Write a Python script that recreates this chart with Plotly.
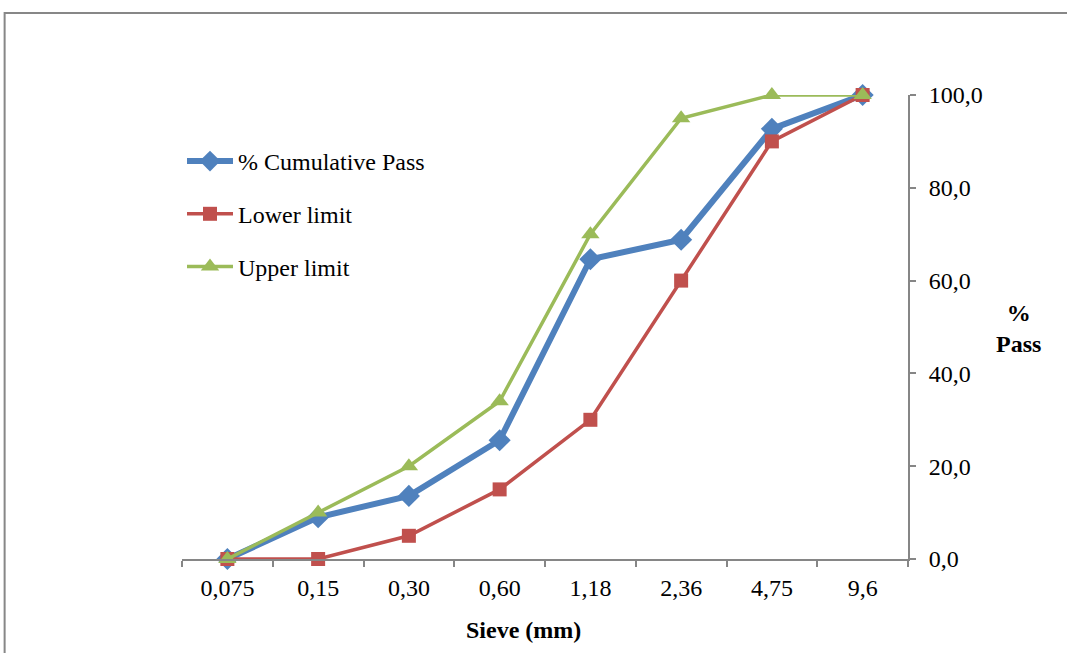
import plotly.graph_objects as go

sieve = ["0,075", "0,15", "0,30", "0,60", "1,18", "2,36", "4,75", "9,6"]
cumulative_pass = [0.0, 9.0, 13.6, 25.6, 64.6, 68.8, 92.7, 100.0]
lower_limit = [0, 0, 5, 15, 30, 60, 90, 100]
upper_limit = [0, 10, 20, 34, 70, 95, 100, 100]
y_ticks = [0, 20, 40, 60, 80, 100]

W, H = 1067, 653
L, R, T, B = 181.5, 159, 95, 94
pw = W - L - R
ph = H - T - B
FONT = "Liberation Serif, Times New Roman, serif"
FS = 24

fig = go.Figure()
fig.add_trace(go.Scatter(
    x=sieve, y=cumulative_pass, name="% Cumulative Pass", mode="lines+markers",
    line=dict(color="#4F81BD", width=6),
    marker=dict(symbol="diamond", size=17, color="#4F81BD"),
    legendgroup="a", cliponaxis=False))
fig.add_trace(go.Scatter(
    x=sieve, y=lower_limit, name="Lower limit", mode="lines+markers",
    line=dict(color="#C0504D", width=3.5),
    marker=dict(symbol="square", size=14, color="#C0504D"),
    legendgroup="b", cliponaxis=False))
fig.add_trace(go.Scatter(
    x=sieve, y=upper_limit, name="Upper limit", mode="lines+markers",
    line=dict(color="#9BBB59", width=3.5),
    marker=dict(symbol="triangle-up", size=16, color="#9BBB59"),
    legendgroup="c", cliponaxis=False))

def px_x(p):
    return (p - L) / pw

def px_y(p):
    return 1 - (p - T) / ph

fig.update_layout(
    width=W, height=H,
    margin=dict(l=L, r=R, t=T, b=B, pad=0, autoexpand=False),
    paper_bgcolor="white", plot_bgcolor="white",
    separators=", ",
    font=dict(family=FONT, size=FS, color="black"),
    showlegend=True,
    legend=dict(
        xref="paper", yref="paper",
        x=0.0, y=px_y(139), xanchor="left", yanchor="top",
        bgcolor="rgba(0,0,0,0)", tracegroupgap=18.5,
        font=dict(family=FONT, size=FS, color="black"),
        itemwidth=46,
    ),
    xaxis=dict(
        type="category", range=[-0.5, 7.5], tickson="boundaries",
        showline=True, linecolor="#868686", linewidth=2,
        ticks="outside", ticklen=6, tickwidth=2, tickcolor="#868686",
        showgrid=False, zeroline=False, ticklabelstandoff=6, tickangle=0,
        automargin=False,
        tickfont=dict(family=FONT, size=FS, color="black"),
    ),
    yaxis=dict(
        side="right", range=[0, 100], tickvals=y_ticks, tickformat=".1f",
        showline=True, linecolor="#868686", linewidth=2,
        ticks="outside", ticklen=6, tickwidth=2, tickcolor="#868686",
        showgrid=False, zeroline=False, ticklabelstandoff=8,
        automargin=False,
        tickfont=dict(family=FONT, size=FS, color="black"),
    ),
    shapes=[dict(
        type="rect", xref="paper", yref="paper",
        x0=px_x(4), x1=px_x(W + 20), y0=px_y(H + 20), y1=px_y(13),
        line=dict(color="#878787", width=2), fillcolor="rgba(0,0,0,0)",
        layer="below")],
    annotations=[
        dict(text="<b>Sieve (mm)</b>", xref="paper", yref="paper",
             x=px_x(523), y=px_y(630), xanchor="center", yanchor="middle",
             showarrow=False, font=dict(family=FONT, size=FS, color="black")),
        dict(text="<b>%<br>Pass</b>", xref="paper", yref="paper",
             x=px_x(1019), y=px_y(328), xanchor="center", yanchor="middle",
             showarrow=False, font=dict(family=FONT, size=FS, color="black")),
    ],
)

fig.write_html("out.html")
